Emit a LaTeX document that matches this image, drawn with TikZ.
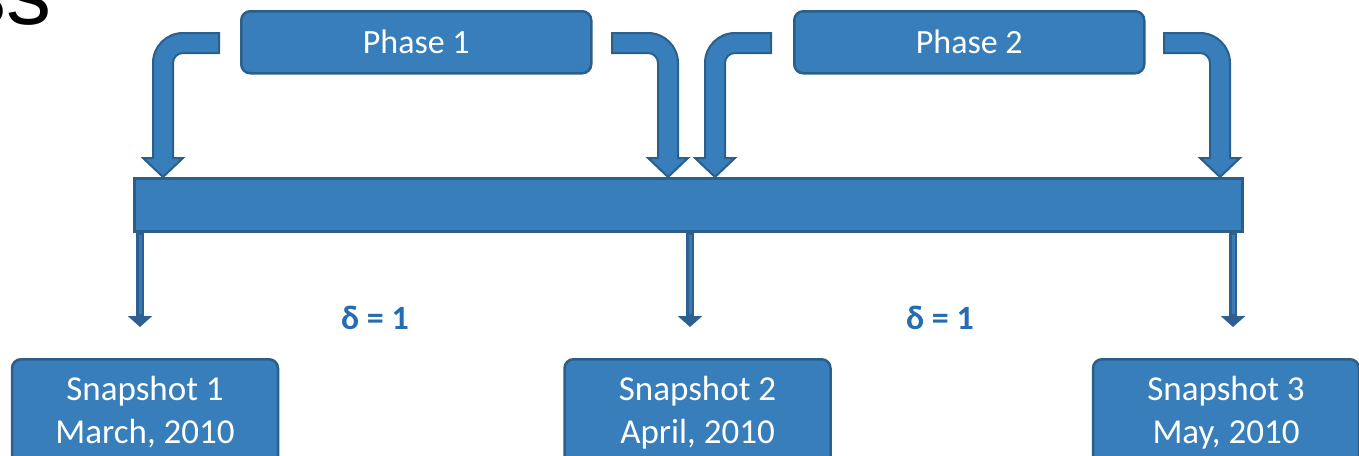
\documentclass[tikz,border=0pt]{standalone}
\usepackage{fontspec}
\setmainfont{Carlito}
\newfontfamily\titlefont{Liberation Sans}
\usetikzlibrary{arrows.meta}
\definecolor{boxfill}{RGB}{55,126,186}
\definecolor{boxline}{RGB}{42,95,140}
\definecolor{arrdark}{RGB}{44,96,146}
\definecolor{arrmid}{RGB}{62,122,178}
\definecolor{deltablue}{RGB}{38,108,178}
\tikzset{
  blockbox/.style={draw=boxline, fill=boxfill, line width=2.5pt, rounded corners=9pt,
    text=white, inner sep=0pt, align=center},
  phasebox/.style={blockbox, minimum width=350pt, minimum height=62pt,
    font=\fontsize{34}{40}\selectfont},
  snapbox/.style={blockbox, minimum width=266pt, minimum height=106pt,
    font=\fontsize{35}{43}\selectfont},
  barbox/.style={draw=boxline, fill=boxfill, line width=3pt, inner sep=0pt,
    minimum width=1108pt, minimum height=53pt},
  downarrow/.style={draw=arrdark, line width=8pt, -{Triangle[width=24pt,length=11pt]}},
  shaftlight/.style={draw=arrmid, line width=3pt},
  deltalabel/.style={text=deltablue, font=\bfseries\fontsize{34}{40}\selectfont, inner sep=0pt},
  bentarrow/.pic={
    \draw[draw=boxline, fill=boxfill, line width=2pt, line join=miter]
      (56,-144) -- (20,-144)
      .. controls (3.43,-144) and (-10,-130.57) .. (-10,-114)
      -- (-10,-19) -- (-20,-19) -- (0,0) -- (20,-19) -- (10,-19)
      -- (10,-114)
      .. controls (10,-119.52) and (14.48,-124) .. (20,-124)
      -- (56,-124) -- cycle;
  }
}
\begin{document}
\begin{tikzpicture}[x=1pt,y=-1pt]
\useasboundingbox (0,0) rectangle (1359,455);

% cut-off title text
\node[anchor=base west, inner sep=0pt, font=\titlefont\fontsize{90}{100}\selectfont] (title) at (-39,24) {ss};

% phase boxes
\node[phasebox, anchor=north west] (phase1) at (240,10) {Phase 1};
\node[phasebox, anchor=north west] (phase2) at (793,10) {Phase 2};

% bent block arrows
\pic at (163,177) {bentarrow};
\pic[xscale=-1] at (668,177) {bentarrow};
\pic at (715,177) {bentarrow};
\pic[xscale=-1] at (1220,177) {bentarrow};

% time bar
\node[barbox, anchor=north west] (bar) at (133,177) {};

% arrow end coordinates
\path (140,327) coordinate (e1) (140,314) coordinate (h1)
      (690,327) coordinate (e2) (690,314) coordinate (h2)
      (1233,327) coordinate (e3) (1233,314) coordinate (h3);

\draw[downarrow] (bar.south -| e1) -- (e1);
\draw[downarrow] (bar.south -| e2) -- (e2);
\draw[downarrow] (bar.south -| e3) -- (e3);
\draw[shaftlight] ([yshift=-2pt]bar.south -| h1) -- (h1);
\draw[shaftlight] ([yshift=-2pt]bar.south -| h2) -- (h2);
\draw[shaftlight] ([yshift=-2pt]bar.south -| h3) -- (h3);

% delta labels
\node[deltalabel] (d1) at (375,318) {δ = 1};
\node[deltalabel] (d2) at (940,318) {δ = 1};

% snapshot boxes
\node[snapbox, anchor=north] (snap1) at (145,358) {Snapshot 1\\March, 2010};
\node[snapbox, anchor=north] (snap2) at (697.5,358) {Snapshot 2\\April, 2010};
\node[snapbox, anchor=north] (snap3) at (1226,358) {Snapshot 3\\May, 2010};
\end{tikzpicture}
\end{document}
